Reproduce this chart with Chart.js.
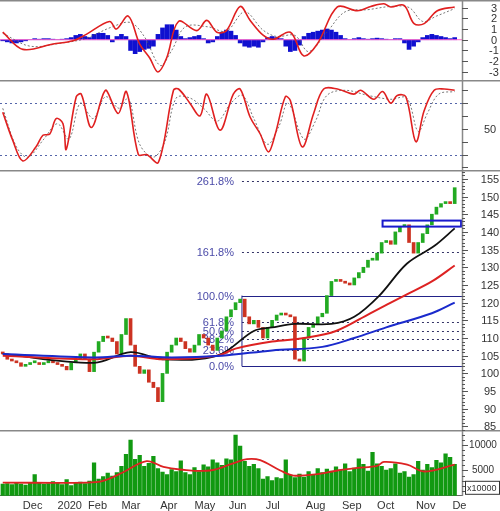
<!DOCTYPE html>
<html><head><meta charset="utf-8">
<script src="https://cdn.jsdelivr.net/npm/chart.js@4/dist/chart.umd.min.js"></script>
<style>
body{margin:0;background:#fff;width:500px;height:511px;overflow:hidden;font-family:"Liberation Sans",Arial,sans-serif}
canvas{position:absolute;left:0;display:block}
</style></head><body>
<canvas id="c1" width="500" height="80" style="top:0;width:500px;height:80px"></canvas>
<canvas id="c2" width="500" height="90" style="top:80px;width:500px;height:90px"></canvas>
<canvas id="c3" width="500" height="260" style="top:170px;width:500px;height:260px"></canvas>
<canvas id="c4" width="500" height="81" style="top:430px;width:500px;height:81px"></canvas>
<script>
// ---------- DATA ----------
const closes=[105.5,104,103.5,103,102,102.5,103,103,102.5,103,103.5,103,102.5,102,101,103,104,105.5,104,100.5,
106,109,110.5,110,109,105.5,111,115.5,108,102,100,101,97.5,96,92,100,106,108,110,109,
107,106,108,111,110,108,106.5,110,112,116,118,120,121,116,114,115,113,110,113,115,
116.5,117,116.5,116,104,103.5,110,113,114,116,117,122,126,126.5,126,125.5,125,127,128.5,130,
132,132,134,137,137.5,136.5,140,141.5,142,137,134,137,139.5,142,145,147,148,148.5,148,152.5];
const maBlack=[[0,105.5],[20,103],[28,106],[35,104],[47,105],[55,112],[59,113],[64,114],[72,114],[77,116],[82.5,122],[88.5,131],[94.5,136],[99,141]];
const maRed=[[0,105],[20,104],[28,105],[35,104],[47,105],[51,107],[59,109],[66,110],[73,112],[80.5,117],[88,122],[94,126],[99,130.5]];
const maBlue=[[0,105.5],[20,104.5],[28,105],[37,104.5],[48,105],[59,106.5],[70,107.5],[77,110],[84,113],[94,117],[99,120]];
const fibLevels=[0,23.6,38.2,50,61.8,100,161.8,261.8];
const fibPrices=[102,106.7,109.6,112,114.4,122,134.4,154.4];
const fibStart=52.4;
const boxRange=[83.2,100.4,141.5,143.2];
const macdLine=[[0,0.7],[4.4,-0.9],[11,-0.4],[15.4,-0.1],[18.3,0.5],[23.4,1.7],[24.9,1.0],[27.5,2.2],[30,-0.4],[32.2,-1.7],[34,-3.0],[35.9,-1.7],[38.5,1.7],[42.5,0.85],[44.7,1.8],[46.9,0.7],[49,0.85],[52,3.1],[54.2,1.8],[57.1,0.4],[59.3,0.05],[63,0.7],[65.9,-1.5],[68.9,-0.4],[73.3,3.05],[77.7,2.7],[80.6,3.1],[83.5,3.35],[85,3.05],[87.9,3.2],[90.1,1.5],[92.3,1.5],[95.2,2.7],[99,3.05]];
const macdSignal=[[0,0.6],[6,-0.6],[13,-0.3],[18,0.1],[24,1.2],[28,1.6],[31,0.3],[34.5,-2.4],[37,-1.0],[40,1.2],[45,1.2],[49,0.8],[53,2.6],[57,0.9],[60,0.3],[64,0.4],[67,-1.1],[71,0.7],[75,2.6],[80,2.8],[85,3.1],[89,3.0],[92,1.7],[95,2.2],[99,2.9]];
const macdHist=[-0.1,-0.2,-0.3,-0.3,-0.2,-0.1,0,0.1,0.05,0.1,0.1,0.05,0,0.05,0.1,0.2,0.4,0.5,0.3,0.2,
0.5,0.6,0.6,0.4,-0.2,0.3,0.5,0.3,-1.0,-1.3,-1.1,-0.9,-0.8,-0.6,0.5,1.1,1.4,1.4,0.9,0.3,
0.1,0.2,0.3,0.4,0.1,-0.3,-0.2,0.3,0.7,0.9,0.8,0.4,-0.3,-0.6,-0.7,-0.6,-0.7,-0.2,0.2,0.3,
0.2,0.1,-0.6,-1.1,-1.0,-0.5,0.3,0.6,0.7,0.8,0.9,1.0,0.9,0.7,0.4,0.1,0,0.1,0.2,0.1,
0.05,0.1,0.15,0.1,0.05,0,0.1,0.1,-0.3,-0.9,-0.6,-0.2,0.2,0.4,0.5,0.4,0.3,0.2,0.1,0.2];
const rsiLine=[[0,63],[2.2,41],[4.4,25],[7.3,36],[8.8,45],[10.3,46],[11.7,58],[13.2,54],[13.9,34],[16.1,75],[17.2,77],[19.4,51],[22,77],[22.7,80],[25.3,62],[27.1,79],[29.7,30],[31.5,30],[34.1,24],[37.4,80],[38.5,81],[41,70],[43.2,60],[44.7,77],[47.6,49],[50.5,77],[52,81],[54.2,59],[56.4,46],[58.2,32],[59.7,46],[61.9,75],[63,72],[65.6,36],[68.1,62],[70.3,81],[73.3,81],[76.9,77],[78.4,80],[81.3,73],[83.2,79],[85,70],[86.4,76],[88.3,75],[90.5,40],[92.3,64],[94.5,80],[96.7,81],[99,80]];
const rsiSignal=[[0,66],[3,36],[5.5,28],[9,42],[12,54],[14.5,42],[17,70],[19.8,58],[22.5,75],[25.5,66],[27.5,74],[30,38],[33,28],[35.5,40],[38,74],[41,74],[44,66],[47,56],[50,70],[52.5,76],[55,58],[58,38],[60.5,52],[62.5,70],[66,42],[68.5,56],[71,76],[75,80],[80,76],[85,73],[88.5,74],[91,48],[93,62],[95.5,77],[99,79]];
const volumes=[2300,2400,2200,2500,2300,2100,2600,4200,2500,2300,2400,2800,2600,2200,3200,2000,2500,2700,2400,2900,
6500,3300,3800,4500,3900,4600,5800,8200,11000,7200,8000,5800,6400,7800,5400,4700,4200,5200,4800,6900,
4600,4200,5600,4800,6100,5700,7100,6500,6000,7300,7100,12000,9800,6800,5800,6200,5400,3300,3800,3000,
3600,3400,7100,4100,3600,4300,3700,4800,4200,5400,4600,5300,4900,5700,5100,6300,4800,5500,7300,6200,
4900,8600,6300,5800,5100,5400,6300,4500,4800,3700,4200,6800,5100,6200,5600,7000,6500,8300,7600,6200];
const volMA=[[0,2600],[18.3,2600],[22,2950],[26.4,4650],[31.5,6850],[35.2,5700],[38.8,5200],[45.4,5000],[50.5,6400],[53.5,7250],[56.4,7050],[60.8,5000],[63.7,4000],[68.9,4300],[73.3,5000],[77.7,5500],[82,5900],[83.5,6700],[88.6,6150],[92.3,4800],[99,6150]];
const monthTicks=[4.4,12,18.7,26,34.5,42,49.5,57.6,66.4,74.3,82,90.5,98.5];
const monthLabels=['Dec','2020','Feb','Mar','Apr','May','Jun','Jul','Aug','Sep','Oct','Nov','De'];
const priceTicks=[85,90,95,100,105,110,115,120,125,130,135,140,145,150,155];
const macdTicks=[-3,-2,-1,0,1,2,3];
const rsiTicks=[50];
const volTicks=[5000,10000];

// ---------- HELPERS ----------
const F='"Liberation Sans", Arial, sans-serif';
Chart.defaults.font.family=F;Chart.defaults.animation=false;
const pts=a=>a.map(p=>({x:p[0],y:p[1]}));
const xBase={type:'linear',min:-0.6,max:100.6,display:false,offset:false};
const yAxis=(min,max)=>({type:'linear',min,max,display:false});
// right axis: labels + ticks drawn from tick arrays through the y scale
const rightAxis=(ticks,minorStep,size,cx)=>({id:'ra',afterDraw(c){const a=c.chartArea,x=c.ctx,Y=c.scales.y;x.save();
 x.strokeStyle='#888';x.lineWidth=1.5;x.beginPath();x.moveTo(0,a.top+0.75);x.lineTo(500,a.top+0.75);
 x.moveTo(a.right+0.5,a.top);x.lineTo(a.right+0.5,a.bottom);x.stroke();
 x.strokeStyle='#555';x.lineWidth=1;
 if(minorStep){for(let v=Y.min-(Y.min%minorStep);v<=Y.max;v+=minorStep){const p=Math.round(Y.getPixelForValue(v))+0.5;if(p<a.top||p>a.bottom)continue;x.beginPath();x.moveTo(a.right,p);x.lineTo(a.right+3,p);x.stroke();}}
 x.fillStyle='#333';x.font=size+'px '+F;x.textAlign='center';x.textBaseline='middle';
 ticks.forEach(v=>{const p=Math.round(Y.getPixelForValue(v))+0.5;x.beginPath();x.moveTo(a.right,p);x.lineTo(a.right+6,p);x.stroke();x.fillText(String(v),cx,p);});
 x.restore();}});
const lineDs=(d,col,w,dash)=>({type:'line',data:pts(d),borderColor:col,borderWidth:w,borderDash:dash||[],pointRadius:0,tension:0.35,fill:false});
const opts=(y,x,pad)=>({responsive:false,devicePixelRatio:1,layout:{padding:pad},
 plugins:{legend:{display:false},tooltip:{enabled:false}},scales:{x:x||xBase,y}});

// ---------- MACD ----------
new Chart(c1,{type:'bar',data:{datasets:[
 lineDs(macdLine,'#e02020',1.6),
 lineDs(macdSignal,'#555',0.8,[2,2]),
 {type:'line',data:[{x:-1,y:0},{x:101,y:0}],borderColor:'#ff66cc',borderWidth:1,pointRadius:0},
 {type:'bar',data:macdHist.map((v,i)=>({x:i,y:v})),backgroundColor:'#1010d0',barThickness:4}
]},options:opts(yAxis(-3.75,3.7),null,{left:0,right:38,top:0,bottom:0}),plugins:[rightAxis(macdTicks,0,11,494)]});

// ---------- RSI ----------
const hl=(vals)=>({id:'hl',beforeDatasetsDraw(c){const x=c.ctx,a=c.chartArea,y=c.scales.y;x.save();x.strokeStyle='#5566aa';x.setLineDash([2,3]);x.lineWidth=1;
 vals.forEach(v=>{const p=Math.round(y.getPixelForValue(v))+0.5;x.beginPath();x.moveTo(a.left,p);x.lineTo(a.right,p);x.stroke();});x.restore();}});
const rsiMinor={id:'rm',afterDraw(c){const a=c.chartArea,x=c.ctx,Y=c.scales.y;x.save();x.strokeStyle='#555';
 [20,30,40,60,70,80].forEach(v=>{const p=Math.round(Y.getPixelForValue(v))+0.5;x.beginPath();x.moveTo(a.right,p);x.lineTo(a.right+6,p);x.stroke();});x.restore();}};
new Chart(c2,{type:'line',data:{datasets:[lineDs(rsiLine,'#e02020',1.6),lineDs(rsiSignal,'#555',0.8,[2,2])]},
 options:opts(yAxis(18,88),null,{left:0,right:38,top:0,bottom:0}),plugins:[hl([70,30]),rightAxis(rsiTicks,0,11,490),rsiMinor]});

// ---------- PRICE ----------
const fib={id:'fib',beforeDatasetsDraw(c){const x=c.ctx,a=c.chartArea,X=c.scales.x,Y=c.scales.y;x.save();
 const x0=X.getPixelForValue(fibStart);
 fibLevels.forEach((l,i)=>{const p=Math.round(Y.getPixelForValue(fibPrices[i]))+0.5;const solid=(l===0||l===100);
  x.strokeStyle=solid?'#222288':'#333366';x.lineWidth=1;x.setLineDash(solid?[]:[2,3]);
  x.beginPath();x.moveTo(x0,p);x.lineTo(a.right,p);x.stroke();
  x.setLineDash([]);x.fillStyle='#4a4aa8';x.font='11px '+F;x.textAlign='right';x.textBaseline='middle';
  x.fillText(l.toFixed(1)+'%',x0-8,p);});
 x.strokeStyle='#222288';x.beginPath();x.moveTo(x0,Y.getPixelForValue(fibPrices[5]));x.lineTo(x0,Y.getPixelForValue(fibPrices[0]));x.stroke();
 x.restore();},
 afterDatasetsDraw(c){const x=c.ctx,X=c.scales.x,Y=c.scales.y;x.save();x.strokeStyle='#1a1acc';x.lineWidth=2;
  const l=X.getPixelForValue(boxRange[0]),r=X.getPixelForValue(boxRange[1]),t=Y.getPixelForValue(boxRange[3]),b=Y.getPixelForValue(boxRange[2]);
  x.strokeRect(l,t,r-l,b-t);x.restore();}};
const candles=closes.map((c,i)=>({x:i,y:[i?closes[i-1]:c+0.5,c]}));
new Chart(c3,{type:'bar',data:{datasets:[
 lineDs(maBlue,'#1a2acc',2),lineDs(maRed,'#dd2222',2),lineDs(maBlack,'#111',1.8),
 {type:'bar',data:candles,backgroundColor:candles.map(d=>d.y[1]>=d.y[0]?'#22aa22':'#cc3322'),barThickness:3,minBarLength:2}
]},options:opts(yAxis(84,157.5),null,{left:0,right:38,top:0,bottom:0}),plugins:[fib,rightAxis(priceTicks,1,11,490)]});

// ---------- VOLUME ----------
const xVol={type:'linear',min:-0.6,max:100.6,offset:false,position:'bottom',grid:{display:false,drawTicks:true,tickLength:6,tickColor:'#333'},border:{color:'#666'},
 afterBuildTicks:s=>{s.ticks=monthTicks.map(v=>({value:v}))},
 ticks:{autoSkip:false,maxRotation:0,padding:-2,align:'start',color:'#333',font:{size:11,family:F},callback:(v,i)=>monthLabels[i]}};
const xbox={id:'xbox',afterDraw(c){const x=c.ctx,a=c.chartArea;x.save();x.strokeStyle='#333';x.lineWidth=1;x.strokeRect(a.right+3.5,a.bottom-14.5,34,13);
 x.fillStyle='#333';x.font='9px '+F;x.textAlign='left';x.textBaseline='middle';x.fillText('x10000',a.right+5,a.bottom-7.5);x.restore();}};
new Chart(c4,{type:'bar',data:{datasets:[
 lineDs(volMA,'#dd2222',1.8),
 {type:'bar',data:volumes.map((v,i)=>({x:i,y:v})),backgroundColor:'#119911',barThickness:3.6}
]},options:opts(yAxis(0,13000),xVol,{left:0,right:38,top:0,bottom:0}),plugins:[rightAxis(volTicks,1000,10,483),xbox]});
</script></body></html>
